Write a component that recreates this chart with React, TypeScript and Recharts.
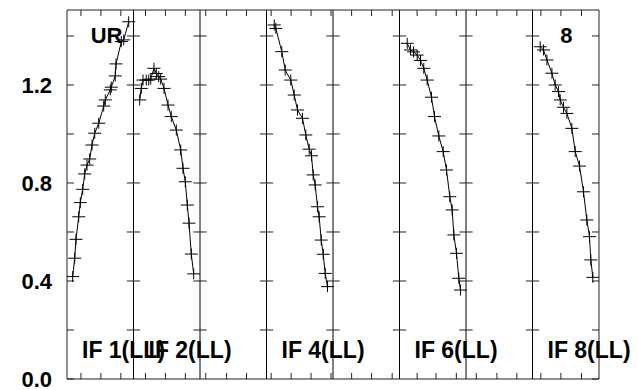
import React from "react";
import { ScatterChart, Scatter, XAxis, YAxis, ReferenceLine } from "recharts";

// time within each IF panel (fraction of the scan) and amplitude
const if1Time = [0.086, 0.116, 0.135, 0.176, 0.2, 0.236, 0.266, 0.301, 0.341, 0.376, 0.417, 0.477, 0.552, 0.576, 0.651, 0.666, 0.726, 0.737, 0.817, 0.853, 0.928];
const if1Amp = [0.418, 0.493, 0.57, 0.662, 0.72, 0.774, 0.837, 0.873, 0.898, 0.955, 1.003, 1.044, 1.114, 1.139, 1.18, 1.191, 1.237, 1.286, 1.377, 1.384, 1.458];

const if2Time = [0.093, 0.117, 0.143, 0.192, 0.229, 0.259, 0.308, 0.343, 0.379, 0.409, 0.459, 0.519, 0.568, 0.644, 0.71, 0.744, 0.779, 0.809, 0.835, 0.869, 0.905];
const if2Amp = [1.139, 1.186, 1.22, 1.22, 1.22, 1.224, 1.268, 1.247, 1.234, 1.224, 1.186, 1.118, 1.071, 1.016, 0.935, 0.86, 0.805, 0.71, 0.636, 0.51, 0.429];

const if4Time = [0.116, 0.14, 0.23, 0.281, 0.365, 0.417, 0.466, 0.541, 0.591, 0.642, 0.677, 0.702, 0.732, 0.767, 0.792, 0.823, 0.853, 0.883, 0.917];
const if4Amp = [1.445, 1.431, 1.336, 1.261, 1.22, 1.159, 1.098, 1.064, 0.996, 0.938, 0.911, 0.833, 0.792, 0.703, 0.662, 0.567, 0.509, 0.431, 0.377];

const if6Time = [0.116, 0.165, 0.211, 0.266, 0.316, 0.365, 0.416, 0.481, 0.526, 0.591, 0.657, 0.707, 0.756, 0.792, 0.817, 0.857, 0.892, 0.917];
const if6Amp = [1.37, 1.343, 1.335, 1.322, 1.3, 1.268, 1.22, 1.15, 1.071, 0.992, 0.928, 0.853, 0.744, 0.69, 0.588, 0.513, 0.411, 0.363];

const if8Time = [0.116, 0.165, 0.217, 0.292, 0.341, 0.391, 0.417, 0.466, 0.517, 0.592, 0.642, 0.707, 0.767, 0.817, 0.857, 0.877, 0.907];
const if8Amp = [1.356, 1.343, 1.302, 1.248, 1.2, 1.173, 1.139, 1.109, 1.084, 1.023, 0.928, 0.869, 0.764, 0.649, 0.581, 0.486, 0.415];

const panelNames = ["IF 1(LL)", "IF 2(LL)", "", "IF 4(LL)", "", "IF 6(LL)", "", "IF 8(LL)"];
const panelTitles = ["UR", "", "", "", "", "", "", "8"];
const panelTimeTicks = [
  [0.21, 0.51, 0.81],
  [0.18, 0.48, 0.78],
  [0.086, 0.4, 0.7],
  [0.07, 0.37, 0.67, 0.97],
  [0.28, 0.58, 0.89],
  [0.265, 0.55, 0.855],
  [0.155, 0.465, 0.765],
  [0.126, 0.427, 0.737],
];
const ampTicks = [0, 0.2, 0.4, 0.6, 0.8, 1.0, 1.2, 1.4];
const ampLabels = [0, 0.4, 0.8, 1.2];

const series = [
  { panel: 0, time: if1Time, amp: if1Amp },
  { panel: 1, time: if2Time, amp: if2Amp },
  { panel: 3, time: if4Time, amp: if4Amp },
  { panel: 5, time: if6Time, amp: if6Amp },
  { panel: 7, time: if8Time, amp: if8Amp },
];

const nPanels = panelNames.length;
const xTicks = panelTimeTicks.flatMap((t, p) => t.map((v) => p + v));
const separators = panelNames.slice(1).map((_, i) => i + 1);
const font = "'Liberation Sans', Arial, Helvetica, sans-serif";

const Plus = (props: any) => {
  const { cx, cy } = props;
  return (
    <g stroke="#000" strokeWidth={1}>
      <line x1={cx - 6.5} x2={cx + 6.5} y1={cy} y2={cy} />
      <line x1={cx} x2={cx} y1={cy - 5.5} y2={cy + 5.5} />
    </g>
  );
};

const NoTick = () => <g />;

const panelText = (text: string, dx: number, dy: number, fromTop: boolean) => (props: any) => {
  const vb = props.viewBox;
  if (!vb || !text) return null;
  const y = fromTop ? vb.y + dy : vb.y + vb.height - dy;
  return (
    <text x={vb.x + dx} y={y} fill="#000" fontFamily={font} fontWeight="bold" fontSize={fromTop ? 22 : 23}>
      {text}
    </text>
  );
};

export default function App() {
  return (
    <ScatterChart width={622} height={392} margin={{ top: 1, right: 30, bottom: 20, left: 0 }}>
      <XAxis
        type="number"
        dataKey="x"
        domain={[0, nPanels]}
        ticks={xTicks}
        interval={0}
        height={1}
        tickSize={-6}
        tick={NoTick}
        stroke="#222"
        allowDataOverflow
      />
      <XAxis
        xAxisId="top"
        orientation="top"
        type="number"
        dataKey="x"
        domain={[0, nPanels]}
        ticks={xTicks}
        interval={0}
        height={1}
        tickSize={-6}
        tick={NoTick}
        stroke="#222"
        allowDataOverflow
      />
      <YAxis
        type="number"
        dataKey="y"
        domain={[0, 1.506]}
        ticks={ampTicks}
        interval={0}
        width={59}
        tickSize={-7}
        tickMargin={22}
        stroke="#222"
        tickFormatter={(v: number) => (ampLabels.some((l) => Math.abs(l - v) < 1e-6) ? v.toFixed(1) : "")}
        tick={{ fill: "#000", fontSize: 22, fontWeight: "bold", fontFamily: font }}
        allowDataOverflow
      />
      <YAxis
        yAxisId="right"
        orientation="right"
        type="number"
        dataKey="y"
        domain={[0, 1.506]}
        ticks={ampTicks}
        interval={0}
        width={1}
        tickSize={-7}
        tick={NoTick}
        stroke="#222"
        allowDataOverflow
      />
      {separators.map((s) => (
        <ReferenceLine key={`sep-${s}`} x={s} stroke="#000" strokeWidth={1} />
      ))}
      {separators.flatMap((s) =>
        ampTicks.slice(1).map((v) => (
          <ReferenceLine
            key={`tk-${s}-${v}`}
            segment={[
              { x: s - 0.1, y: v },
              { x: s + 0.1, y: v },
            ]}
            stroke="#222"
            strokeWidth={1}
          />
        ))
      )}
      {panelNames.map((name, p) => (
        <ReferenceLine
          key={`lbl-${p}`}
          x={p}
          stroke="none"
          label={panelText(name, 15, 21, false)}
        />
      ))}
      {panelTitles.map((title, p) =>
        title ? (
          <ReferenceLine
            key={`ttl-${p}`}
            x={p}
            stroke="none"
            label={panelText(title, p === 0 ? 23.7 : 27.7, 32.7, true)}
          />
        ) : null
      )}
      {series.map((s) => (
        <Scatter
          key={`if-${s.panel}`}
          data={s.time.map((t, i) => ({ x: s.panel + t, y: s.amp[i] }))}
          shape={Plus}
          line={{ stroke: "#000", strokeWidth: 1 }}
          lineType="joint"
          isAnimationActive={false}
        />
      ))}
    </ScatterChart>
  );
}
